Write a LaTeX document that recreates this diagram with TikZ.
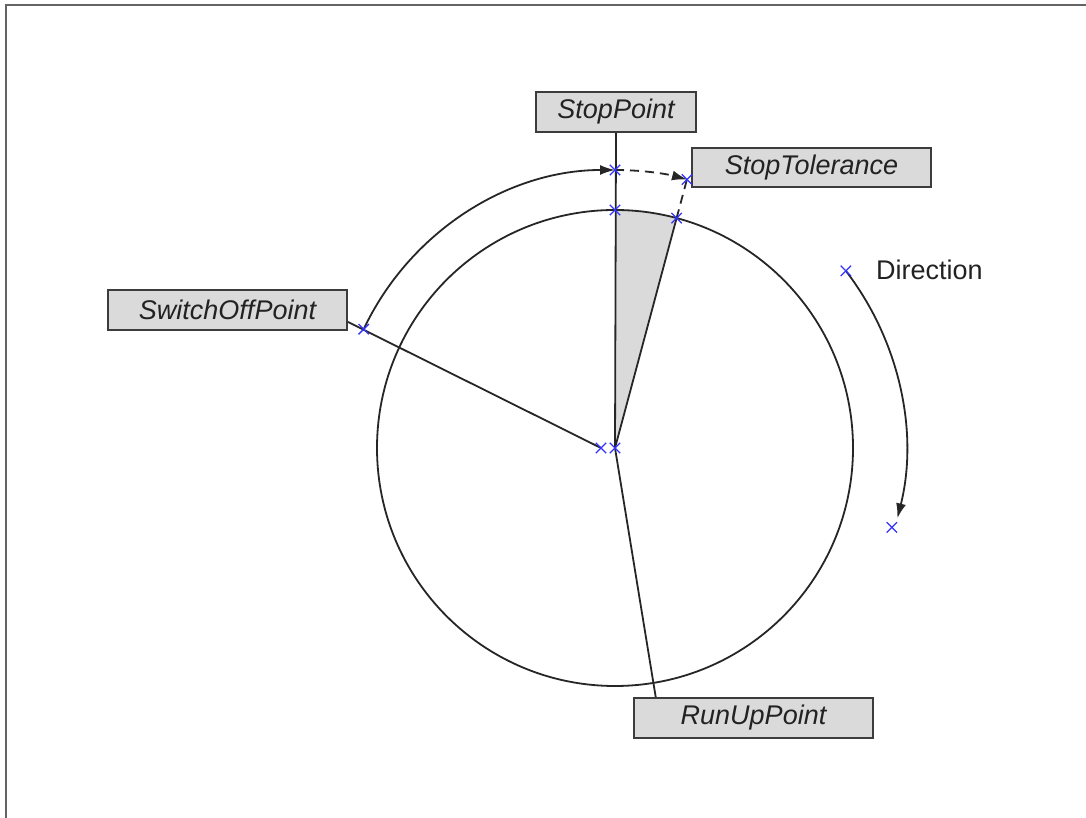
\documentclass[tikz,border=0pt]{standalone}
\usepackage{fontspec}
\newfontfamily\arialfont{Liberation Sans}
\usetikzlibrary{arrows.meta,shapes.misc,calc}
\definecolor{boxfill}{RGB}{218,218,218}
\definecolor{boxline}{RGB}{60,60,60}
\definecolor{markblue}{RGB}{50,50,255}
\definecolor{txt}{RGB}{34,34,34}
\definecolor{frameline}{RGB}{100,100,100}
\begin{document}
\begin{tikzpicture}[x=1pt,y=1pt,
  lbl/.style={draw=boxline, line width=2pt, fill=boxfill, minimum height=40pt,
    inner sep=0pt, font=\arialfont\itshape\fontsize{27}{30}\selectfont, text=txt},
  wire/.style={line width=1.8pt, draw=black!85},
  xmark/.style={cross out, draw=markblue, line width=1.3pt, minimum size=9pt, inner sep=0pt},
  tip/.style={-{Latex[length=15pt,width=10pt]}},
  dashline/.style={dash pattern=on 9pt off 6pt}]
\useasboundingbox (0,0) rectangle (1086,818);
% frame
\draw[frameline, line width=2pt] (6,0) -- (6,813) -- (1086,813);

% key points
\coordinate (C) at (615,370);
\coordinate (C2) at (601,370);
\coordinate (Ptop) at ($(C)+(90:238)$);
\coordinate (Ptol) at ($(C)+(75:238)$);
\coordinate (Otop) at ($(C)+(90:278)$);
\coordinate (Otol) at ($(C)+(75:278)$);
\coordinate (Oso) at ($(C)+(154.7:278)$);
\coordinate (Dstart) at ($(C)+(37.5:291)$);
\coordinate (Dend) at ($(C)+(-16:288)$);

% labels
\node[lbl, minimum width=160pt] (sp) at (616,706) {StopPoint};
\node[lbl, minimum width=239pt, minimum height=39pt] (st) at (811.5,650.5) {StopTolerance};
\node[lbl, minimum width=239pt] (so) at (227.5,508) {SwitchOffPoint};
\node[lbl, minimum width=239pt] (ru) at (753.5,100) {RunUpPoint};
\coordinate (soend) at ($(so.east)+(0,-12)$);
\coordinate (ruend) at ($(ru.north west)+(22.7,0)$);

% shaded sector
\fill[boxfill] (C) -- (Ptop) arc (90:75:238) -- cycle;

% circle
\draw[wire] (C) circle (238);

% radial lines
\draw[wire] (sp.south) -- (C);
\draw[wire] (C) -- (Ptol);
\draw[wire, dashline] (Ptol) -- (Otol);
\draw[wire] (soend) -- (C2);
\draw[wire] (C) -- (ruend);

% arcs
\draw[wire, tip] (Oso) arc (154.7:90:278);
\draw[wire, dashline, tip] (Otop) arc (90:75:278);
\draw[wire, tip] (Dstart) arc (37.5:-14:291);

% direction label
\node[anchor=west, font=\arialfont\fontsize{27}{30}\selectfont, text=txt, inner sep=0pt] (dir) at (876,548) {Direction};

% markers
\node[xmark] (m1) at (Otop) {};
\node[xmark] (m2) at (Ptop) {};
\node[xmark] (m3) at (Otol) {};
\node[xmark] (m4) at (Ptol) {};
\node[xmark] (m5) at (Oso) {};
\node[xmark] (m6) at (C2) {};
\node[xmark] (m7) at (C) {};
\node[xmark] (m8) at (Dstart) {};
\node[xmark] (m9) at (Dend) {};
\end{tikzpicture}
\end{document}
